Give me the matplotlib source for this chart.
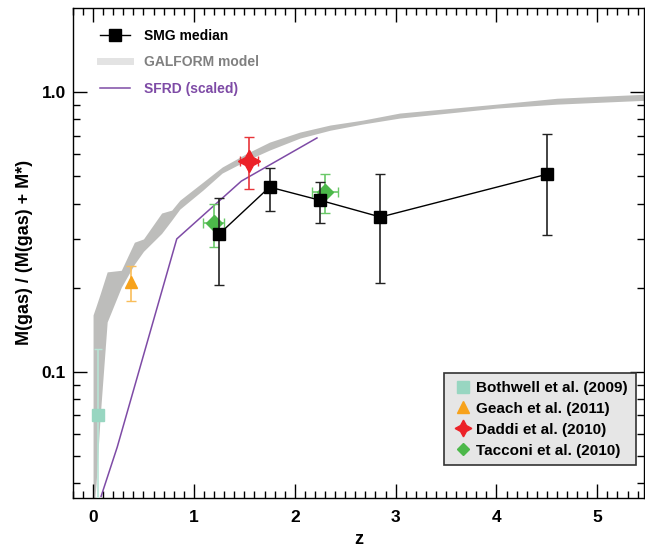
import numpy as np
import matplotlib
matplotlib.use('Agg')
import matplotlib.pyplot as plt
from matplotlib.ticker import FixedLocator, NullFormatter, FixedFormatter

plt.rcParams['font.family'] = ['Liberation Sans', 'DejaVu Sans']
plt.rcParams['font.weight'] = 'bold'

# SMG median
smg_z = [1.25, 1.75, 2.25, 2.85, 4.5]
smg_y = [0.311, 0.458, 0.411, 0.358, 0.509]
smg_lo = [0.205, 0.376, 0.340, 0.208, 0.309]
smg_hi = [0.418, 0.535, 0.478, 0.509, 0.708]

# GALFORM model band
gal_z = [0.0, 0.03, 0.07, 0.14, 0.28, 0.41, 0.5, 0.68, 0.78, 0.86, 1.09, 1.28,
         1.53, 1.75, 2.05, 2.35, 2.67, 3.04, 4.0, 4.6, 5.5]
gal_hi = [0.160, 0.172, 0.190, 0.228, 0.231, 0.291, 0.299, 0.370, 0.379, 0.411,
          0.477, 0.540, 0.606, 0.663, 0.720, 0.763, 0.794, 0.842, 0.906, 0.951, 0.984]
gal_lo = [0.030, 0.040, 0.069, 0.151, 0.201, 0.243, 0.270, 0.313, 0.349, 0.382,
          0.447, 0.514, 0.572, 0.621, 0.685, 0.731, 0.769, 0.808, 0.877, 0.906, 0.936]

# SFRD (scaled)
sfrd_z = [0.08, 0.24, 0.83, 1.47, 2.22]
sfrd_y = [0.036, 0.054, 0.299, 0.481, 0.686]

# literature points
both_z, both_y, both_lo, both_hi = [0.045], [0.070], [0.03], [0.121]
geach_z, geach_y, geach_lo, geach_hi = [0.38], [0.21], [0.179], [0.239]
daddi_z, daddi_y, daddi_lo, daddi_hi, daddi_xe = [1.545], [0.567], [0.45], [0.69], [0.09]
tac_z = [1.195, 2.30]
tac_y = [0.340, 0.440]
tac_lo = [0.279, 0.370]
tac_hi = [0.398, 0.509]
tac_xe = [0.10, 0.13]


def yerr(y, lo, hi):
    y = np.array(y); lo = np.array(lo); hi = np.array(hi)
    return [y - lo, hi - y]


fig = plt.figure(figsize=(6.45, 5.47), dpi=100)
ax = fig.add_axes([0.113, 0.0896, 0.885, 0.896])

ax.fill_between(gal_z, gal_lo, gal_hi, color='#bdbdbb', lw=0, zorder=1)
ax.plot(sfrd_z, sfrd_y, color='#7e4ba6', lw=1.1, zorder=2)

ax.errorbar(smg_z, smg_y, yerr=yerr(smg_y, smg_lo, smg_hi), fmt='s-', color='black',
            ecolor='#222222', ms=8.5, lw=1, elinewidth=1.2, capsize=3.5, zorder=5)

ax.errorbar(both_z, both_y, yerr=yerr(both_y, both_lo, both_hi), fmt='s', color='#98d6c1',
            ecolor='#b8e4d5', ms=8, elinewidth=1.2, capsize=3, zorder=4)
ax.errorbar(geach_z, geach_y, yerr=yerr(geach_y, geach_lo, geach_hi), fmt='^', color='#f7a21b',
            ecolor='#f9bd5a', ms=8, elinewidth=1.2, capsize=3.5, zorder=4)
ax.errorbar(daddi_z, daddi_y, yerr=yerr(daddi_y, daddi_lo, daddi_hi), xerr=daddi_xe,
            fmt='none', ecolor='#e8353a', elinewidth=1.2, capsize=3.5, zorder=4)
ax.plot(daddi_z, daddi_y, marker=(4, 1, 0), color='#ec2127', ms=16, ls='none', zorder=4)
ax.errorbar(tac_z, tac_y, yerr=yerr(tac_y, tac_lo, tac_hi), xerr=tac_xe, fmt='D',
            color='#4cb84a', ecolor='#6ac868', ms=8, elinewidth=1.2, capsize=3.5, zorder=4)

ax.set_yscale('log')
ax.set_xlim(-0.2, 5.46)
ax.set_ylim(0.0355, 2.0)

ax.xaxis.set_major_locator(FixedLocator([0, 1, 2, 3, 4, 5]))
ax.xaxis.set_minor_locator(FixedLocator(np.arange(-0.2, 5.5, 0.1)))
ax.yaxis.set_major_locator(FixedLocator([0.1, 1.0]))
ax.yaxis.set_major_formatter(FixedFormatter(['0.1', '1.0']))
ax.yaxis.set_minor_locator(FixedLocator([0.04, 0.05, 0.06, 0.07, 0.08, 0.09,
                                         0.2, 0.3, 0.4, 0.5, 0.6, 0.7, 0.8, 0.9]))
ax.yaxis.set_minor_formatter(NullFormatter())
ax.tick_params(which='both', direction='in', top=True, right=True, width=1, labelsize=12.5)
ax.tick_params(which='major', length=10)
ax.tick_params(axis='y', which='major', pad=5)
ax.tick_params(axis='x', which='major', pad=9)
ax.tick_params(which='minor', length=5)
for sp in ax.spines.values():
    sp.set_linewidth(1)

ax.set_xlabel('z', fontsize=13, fontweight='bold', labelpad=4)
ax.set_ylabel('M(gas) / (M(gas) + M*)', fontsize=13, fontweight='bold', labelpad=6)

# top-left legend
h1, = ax.plot([], [], 's-', color='black', ms=8.5, lw=1)
h2, = ax.plot([], [], '-', color='#e3e3e3', lw=5)
h3, = ax.plot([], [], '-', color='#7e4ba6', lw=1.1)
leg1 = ax.legend([h1, h2, h3], ['SMG median', 'GALFORM model', 'SFRD (scaled)'],
                 loc='upper left', bbox_to_anchor=(0.025, 0.983), frameon=False,
                 fontsize=10, handlelength=2.2, labelspacing=0.9, handletextpad=1.0)
for t, c in zip(leg1.get_texts(), ['black', '#808080', '#7e4ba6']):
    t.set_color(c)
    t.set_fontweight('bold')
ax.add_artist(leg1)

# bottom-right legend
m1, = ax.plot([], [], 's', color='#98d6c1', ms=8)
m2, = ax.plot([], [], '^', color='#f7a21b', ms=8)
m3, = ax.plot([], [], marker=(4, 1, 0), color='#ec2127', ms=12, ls='none')
m4, = ax.plot([], [], 'D', color='#4cb84a', ms=6.5)
leg2 = ax.legend([m1, m2, m3, m4],
                 ['Bothwell et al. (2009)', 'Geach et al. (2011)',
                  'Daddi et al. (2010)', 'Tacconi et al. (2010)'],
                 loc='lower right', bbox_to_anchor=(0.986, 0.067), borderaxespad=0,
                 fontsize=11, fancybox=False, framealpha=1, facecolor='#e6e6e6',
                 edgecolor='#333333', handlelength=1.6, handletextpad=0.05,
                 labelspacing=0.45, borderpad=0.5)
for t in leg2.get_texts():
    t.set_fontweight('bold')
leg2.get_frame().set_linewidth(1.2)

fig.savefig('out.png', dpi=100)
